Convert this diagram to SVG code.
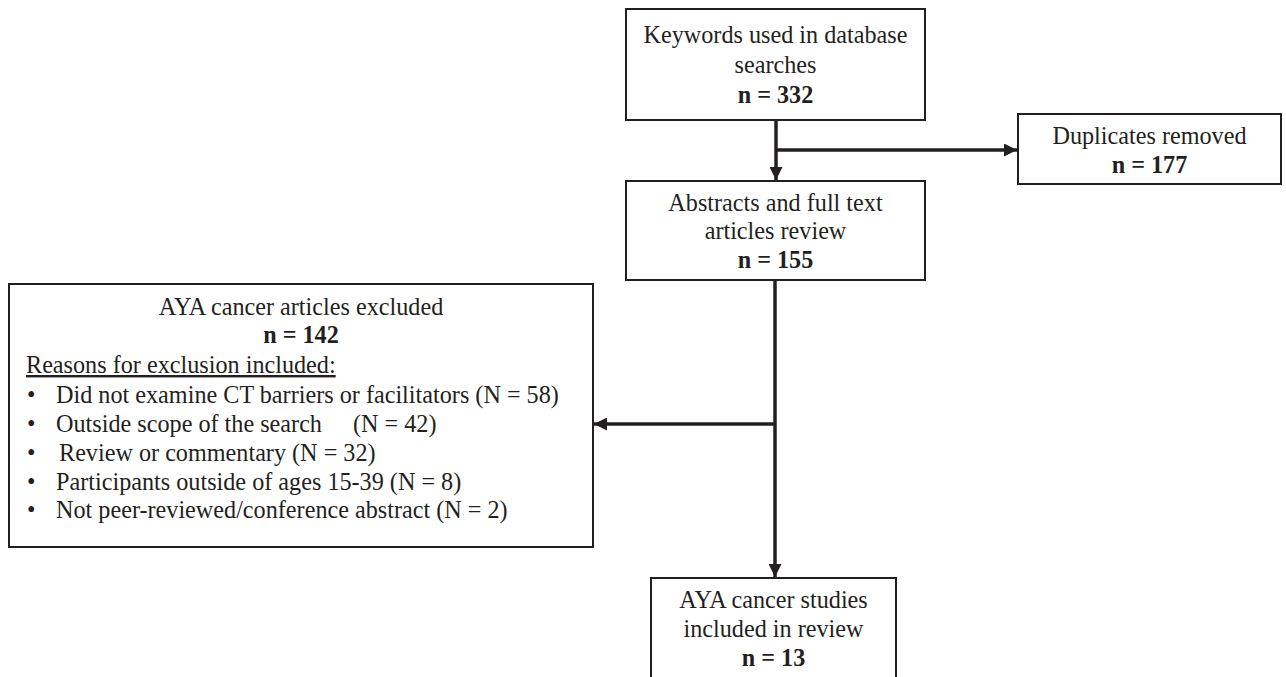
<svg xmlns="http://www.w3.org/2000/svg" width="1286" height="677" viewBox="0 0 1286 677">
<style>
.box{fill:#fff;stroke:#231f20;stroke-width:2}
.t{font-family:"Liberation Serif","Times New Roman",serif;font-size:24.2px;fill:#231f20}
.c{text-anchor:middle}
.b{font-weight:bold}
.con{stroke:#231f20;stroke-width:3.5;fill:none}
</style>
<defs>
<marker id="ah" markerUnits="userSpaceOnUse" markerWidth="13" markerHeight="13" viewBox="0 0 13 13" refX="13" refY="6.5" orient="auto">
<path d="M0,0 L13,6.5 L0,13 z" fill="#231f20"/>
</marker>
</defs>
<rect width="1286" height="677" fill="#fff"/>
<g id="connectors">
<line class="con" x1="776" y1="120" x2="776" y2="180" marker-end="url(#ah)"/>
<line class="con" x1="776" y1="150" x2="1017" y2="150" marker-end="url(#ah)"/>
<line class="con" x1="775" y1="280" x2="775" y2="577" marker-end="url(#ah)"/>
<line class="con" x1="775" y1="424" x2="594" y2="424" marker-end="url(#ah)"/>
</g>
<g id="keywords">
<rect class="box" x="626" y="9" width="299" height="111"/>
<text class="t c" x="775.5" y="43">Keywords used in database</text>
<text class="t c" x="775.5" y="73">searches</text>
<text class="t c b" x="775.5" y="103">n = 332</text>
</g>
<g id="duplicates">
<rect class="box" x="1018" y="114" width="263" height="70"/>
<text class="t c" x="1149.5" y="144">Duplicates removed</text>
<text class="t c b" x="1149.5" y="173">n = 177</text>
</g>
<g id="abstracts">
<rect class="box" x="626" y="181" width="299" height="99"/>
<text class="t c" x="775.5" y="211">Abstracts and full text</text>
<text class="t c" x="775.5" y="239">articles review</text>
<text class="t c b" x="775.5" y="268">n = 155</text>
</g>
<g id="excluded">
<rect class="box" x="9" y="284" width="584" height="263"/>
<text class="t c" x="301" y="315">AYA cancer articles excluded</text>
<text class="t c b" x="301" y="343">n = 142</text>
<text class="t" x="26" y="373" text-decoration="underline">Reasons for exclusion included:</text>
<text class="t" x="27" y="403">•</text>
<text class="t" x="56" y="403">Did not examine CT barriers or facilitators (N = 58)</text>
<text class="t" x="27" y="432">•</text>
<text class="t" x="56" y="432">Outside scope of the search</text>
<text class="t" x="353" y="432">(N = 42)</text>
<text class="t" x="27" y="461">•</text>
<text class="t" x="59" y="461">Review or commentary (N = 32)</text>
<text class="t" x="27" y="490">•</text>
<text class="t" x="56" y="490">Participants outside of ages 15-39 (N = 8)</text>
<text class="t" x="27" y="518">•</text>
<text class="t" x="56" y="518">Not peer-reviewed/conference abstract (N = 2)</text>
</g>
<g id="included">
<rect class="box" x="651" y="578" width="245" height="110"/>
<text class="t c" x="773.5" y="608">AYA cancer studies</text>
<text class="t c" x="773.5" y="637">included in review</text>
<text class="t c b" x="773.5" y="666">n = 13</text>
</g>
</svg>
